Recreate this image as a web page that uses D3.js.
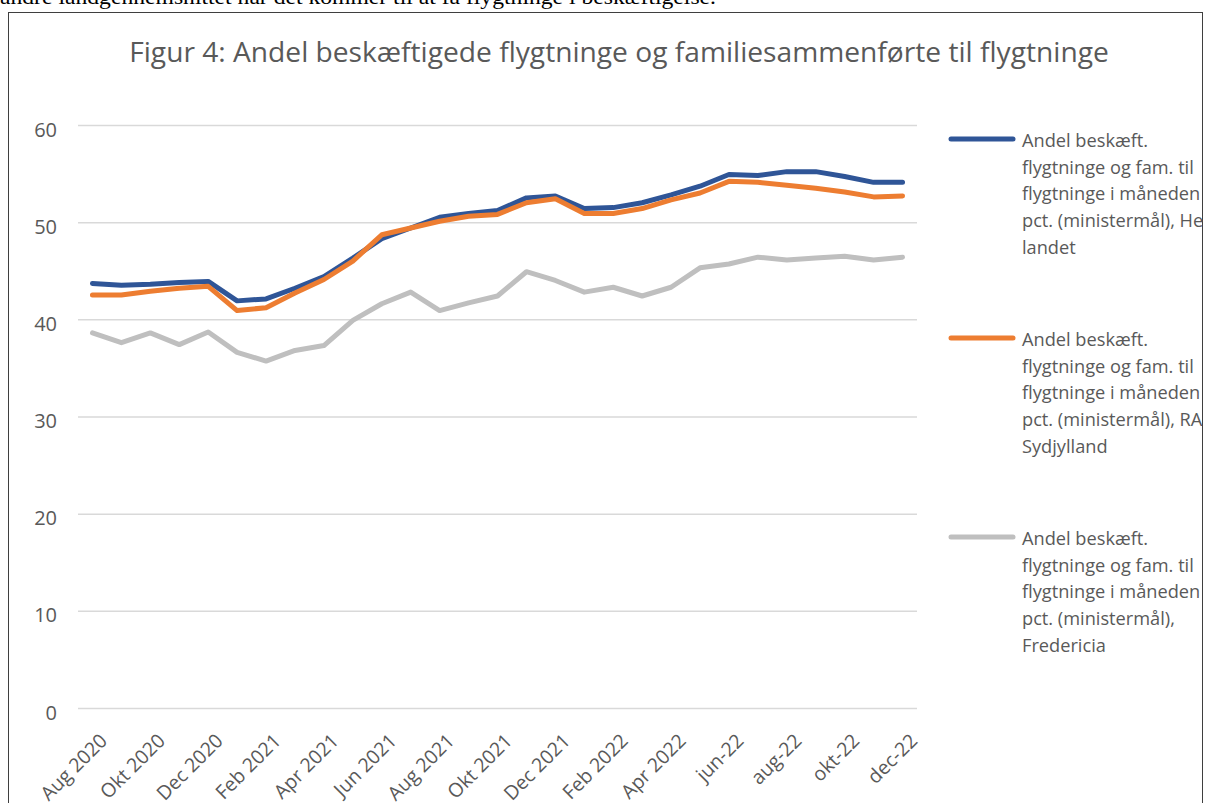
<!DOCTYPE html>
<html lang="da">
<head>
  <meta charset="UTF-8">
  <title>Figur 4</title>
  <style>
body { margin: 0; background: #fff; }
svg { display: block; font-family: "Open Sans", sans-serif; }
.axis path, .axis line { display: none; }
.grid line { stroke: #d9d9d9; stroke-width: 1.5; }
.grid path { display: none; }
  </style>
</head>
<body>
  <div id="chart"></div>
  <script src="https://d3js.org/d3.v7.min.js"></script>
  <script>
const months = ["Aug 2020", "Sep 2020", "Okt 2020", "Nov 2020", "Dec 2020",
  "Jan 2021", "Feb 2021", "Mar 2021", "Apr 2021", "Maj 2021", "Jun 2021", "Jul 2021",
  "Aug 2021", "Sep 2021", "Okt 2021", "Nov 2021", "Dec 2021",
  "Jan 2022", "Feb 2022", "Mar 2022", "Apr 2022", "maj-22", "jun-22", "jul-22",
  "aug-22", "sep-22", "okt-22", "nov-22", "dec-22"];

const heleLandet = [43.7, 43.5, 43.6, 43.8, 43.9, 41.9, 42.1, 43.2, 44.4, 46.3, 48.3, 49.4,
  50.5, 50.9, 51.2, 52.5, 52.7, 51.4, 51.5, 52.0, 52.8, 53.7, 54.9, 54.8,
  55.2, 55.2, 54.7, 54.1, 54.1];
const rarSydjylland = [42.5, 42.5, 42.9, 43.2, 43.4, 40.9, 41.2, 42.7, 44.1, 46.0, 48.7, 49.4,
  50.1, 50.6, 50.8, 52.0, 52.4, 50.9, 50.9, 51.4, 52.3, 53.0, 54.2, 54.1,
  53.8, 53.5, 53.1, 52.6, 52.7];
const fredericia = [38.6, 37.6, 38.6, 37.4, 38.7, 36.6, 35.7, 36.8, 37.3, 39.9, 41.6, 42.8,
  40.9, 41.7, 42.4, 44.9, 44.0, 42.8, 43.3, 42.4, 43.3, 45.3, 45.7, 46.4,
  46.1, 46.3, 46.5, 46.1, 46.4];

const yTicks = [0, 10, 20, 30, 40, 50, 60];

const legendLines = [
  ["Andel beskæft.", "flygtninge og fam. til", "flygtninge i måneden i", "pct. (ministermål), Hele", "landet"],
  ["Andel beskæft.", "flygtninge og fam. til", "flygtninge i måneden i", "pct. (ministermål), RAR", "Sydjylland"],
  ["Andel beskæft.", "flygtninge og fam. til", "flygtninge i måneden i", "pct. (ministermål),", "Fredericia"]
];

const series = [
  { values: heleLandet, color: "#2f5597" },
  { values: rarSydjylland, color: "#ed7d31" },
  { values: fredericia, color: "#bfbfbf" }
];

const W = 1206, H = 803;
const svg = d3.select("#chart").append("svg")
  .attr("width", W)
  .attr("height", H);

// cut-off line of body text above the chart
svg.append("text")
  .attr("x", 0)
  .attr("y", 4)
  .attr("textLength", 716)
  .attr("lengthAdjust", "spacingAndGlyphs")
  .style("font-family", "'Liberation Serif', serif")
  .style("font-size", "22px")
  .attr("fill", "#000")
  .text("andre landgennemsnittet når det kommer til at få flygtninge i beskæftigelse.");

svg.append("defs").append("clipPath")
  .attr("id", "frame")
  .append("rect")
  .attr("x", 8).attr("y", 12).attr("width", 1195).attr("height", 800);

const g = svg.append("g").attr("clip-path", "url(#frame)");

// frame
g.append("rect")
  .attr("x", 8.5).attr("y", 12.5)
  .attr("width", 1194).attr("height", 820)
  .attr("fill", "none")
  .attr("stroke", "#3f3f3f")
  .attr("stroke-width", 1);

const x = d3.scaleBand()
  .domain(months)
  .range([78, 917]);

const y = d3.scaleLinear()
  .domain([0, 60])
  .range([708, 125]);

// title, fitted to width
const title = g.append("text")
  .attr("x", 619)
  .attr("y", 62)
  .attr("text-anchor", "middle")
  .attr("fill", "#595959")
  .style("font-size", "27px")
  .text("Figur 4: Andel beskæftigede flygtninge og familiesammenførte til flygtninge");
const tw = title.node().getComputedTextLength();
title.style("font-size", (27 * 980 / tw).toFixed(2) + "px");

// gridlines
g.append("g")
  .attr("class", "grid")
  .attr("transform", "translate(78,0)")
  .call(d3.axisLeft(y).tickValues(yTicks).tickSize(-839).tickFormat(""));

// y axis labels
const yAxis = g.append("g")
  .attr("class", "axis")
  .attr("transform", "translate(78,0)")
  .call(d3.axisLeft(y).tickValues(yTicks).tickSize(0).tickPadding(21));
yAxis.selectAll("text")
  .attr("fill", "#595959")
  .attr("dy", "0.55em")
  .style("font-size", "20px")
  .style("font-family", "'Open Sans', sans-serif");

// x axis labels
const xAxis = g.append("g")
  .attr("class", "axis")
  .attr("transform", "translate(0,708)")
  .call(d3.axisBottom(x).tickValues(months.filter((d, i) => i % 2 === 0)).tickSize(0));
xAxis.selectAll("text")
  .attr("fill", "#595959")
  .attr("text-anchor", "end")
  .attr("x", 0).attr("y", 0).attr("dy", 0)
  .attr("transform", "translate(16,34) rotate(-45)")
  .style("font-size", "19.5px")
  .style("font-family", "'Open Sans', sans-serif");

// lines
const line = d3.line()
  .x((d, i) => x(months[i]) + x.bandwidth() / 2)
  .y(d => y(d));

g.append("g")
  .selectAll("path")
  .data(series)
  .join("path")
  .attr("d", d => line(d.values))
  .attr("fill", "none")
  .attr("stroke", d => d.color)
  .attr("stroke-width", 5)
  .attr("stroke-linejoin", "round")
  .attr("stroke-linecap", "round");

// legend
const legend = g.append("g")
  .selectAll("g")
  .data(series)
  .join("g")
  .attr("transform", (d, i) => `translate(949,${139 + i * 199})`);

legend.append("line")
  .attr("x1", 2).attr("x2", 64)
  .attr("y1", 0).attr("y2", 0)
  .attr("stroke", d => d.color)
  .attr("stroke-width", 5)
  .attr("stroke-linecap", "round");

const legendText = legend.append("text")
  .attr("fill", "#595959")
  .style("font-size", "17px");
legendText.selectAll("tspan")
  .data((d, i) => legendLines[i])
  .join("tspan")
  .attr("x", 73)
  .attr("y", (d, i) => 8 + i * 26.7)
  .text(d => d);

// size legend font so the second line spans about as wide as in the original
const probe = legendText.filter((d, i) => i === 0).selectAll("tspan").nodes()[1];
const lw = probe.getComputedTextLength();
const fs = Math.min(19, 17 * 172 / lw);
legendText.style("font-size", fs.toFixed(2) + "px");
  </script>
</body>
</html>
